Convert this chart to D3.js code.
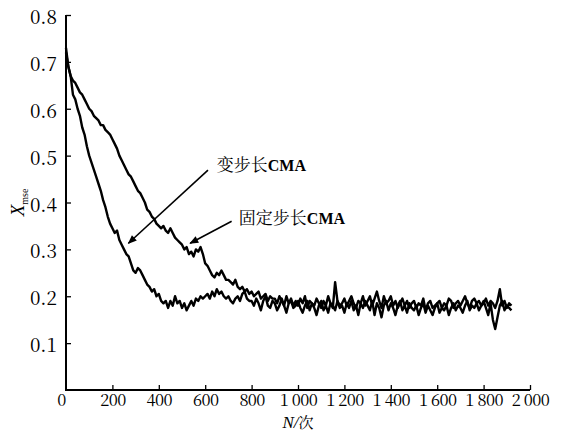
<!DOCTYPE html>
<html>
<head>
<meta charset="utf-8">
<script src="https://cdn.jsdelivr.net/npm/d3@7"></script>
<style>
  body { margin: 0; background: #fff; }
  svg { display: block; }
  .serif { font-family: "Liberation Serif", serif; }
  .tick text { font-family: "Noto Serif CJK SC", serif; fill: #000; }
  .cjk { font-family: "Noto Serif CJK SC", "Noto Sans CJK SC", serif; }
</style>
</head>
<body>
<svg id="chart"></svg>
<script>
var chartWidth = 564;
var chartHeight = 434;

/********
 * Data *
 ********/

// sample step of the iterations (N) for both series
var stepN = 10;

// 变步长CMA (every 10 iterations)
var variableStep = [
  0.73, 0.69, 0.67, 0.63, 0.62, 0.60, 0.585, 0.56, 0.545, 0.52,
  0.50, 0.485, 0.47, 0.455, 0.44, 0.425, 0.405, 0.39, 0.37, 0.355,
  0.345, 0.335, 0.34, 0.32, 0.31, 0.30, 0.29, 0.285, 0.27, 0.255,
  0.25, 0.26, 0.255, 0.245, 0.235, 0.225, 0.22, 0.21, 0.215, 0.20,
  0.205, 0.19, 0.185, 0.19, 0.175, 0.19, 0.18, 0.20, 0.185, 0.19,
  0.175, 0.185, 0.17, 0.18, 0.19, 0.18, 0.195, 0.19, 0.20, 0.195,
  0.20, 0.205, 0.195, 0.21, 0.20, 0.215, 0.205, 0.21, 0.20, 0.195,
  0.20, 0.19, 0.185, 0.195, 0.20, 0.19, 0.205, 0.21, 0.195, 0.19,
  0.19, 0.18, 0.195, 0.185, 0.17, 0.19, 0.20, 0.18, 0.175, 0.19,
  0.185, 0.17, 0.18, 0.195, 0.18, 0.165, 0.185, 0.19, 0.175, 0.18,
  0.19, 0.175, 0.165, 0.18, 0.19, 0.17, 0.185, 0.175, 0.16, 0.18,
  0.19, 0.17, 0.18, 0.165, 0.185, 0.18, 0.17, 0.19, 0.175, 0.18,
  0.165, 0.185, 0.175, 0.19, 0.17, 0.18, 0.16, 0.185, 0.175, 0.19,
  0.18, 0.17, 0.19, 0.16, 0.185, 0.175, 0.155, 0.18, 0.19, 0.17,
  0.185, 0.175, 0.16, 0.18, 0.19, 0.17, 0.18, 0.165, 0.185, 0.175,
  0.17, 0.18, 0.16, 0.175, 0.185, 0.165, 0.18, 0.17, 0.16, 0.175,
  0.185, 0.165, 0.175, 0.17, 0.18, 0.16, 0.175, 0.185, 0.17, 0.18,
  0.175, 0.165, 0.18, 0.19, 0.17, 0.18, 0.175, 0.185, 0.17, 0.18,
  0.19, 0.175, 0.16, 0.185, 0.15, 0.13, 0.155, 0.18, 0.19, 0.17,
  0.18, 0.175, 0.17
];

// 固定步长CMA
var fixedStep = [
  0.72, 0.69, 0.67, 0.66, 0.655, 0.645, 0.635, 0.63, 0.62, 0.61,
  0.60, 0.595, 0.585, 0.58, 0.575, 0.565, 0.565, 0.555, 0.55, 0.545,
  0.535, 0.525, 0.515, 0.50, 0.49, 0.48, 0.47, 0.46, 0.455, 0.445,
  0.435, 0.425, 0.42, 0.41, 0.40, 0.385, 0.38, 0.37, 0.365, 0.355,
  0.35, 0.345, 0.35, 0.34, 0.335, 0.345, 0.335, 0.325, 0.32, 0.315,
  0.31, 0.30, 0.305, 0.29, 0.295, 0.285, 0.30, 0.295, 0.305, 0.29,
  0.27, 0.265, 0.255, 0.245, 0.24, 0.25, 0.245, 0.255, 0.245, 0.235,
  0.235, 0.23, 0.225, 0.235, 0.22, 0.215, 0.22, 0.21, 0.215, 0.205,
  0.21, 0.20, 0.205, 0.21, 0.195, 0.20, 0.205, 0.19, 0.20, 0.195,
  0.195, 0.185, 0.20, 0.19, 0.18, 0.20, 0.185, 0.195, 0.18, 0.19,
  0.18, 0.195, 0.185, 0.20, 0.175, 0.19, 0.185, 0.18, 0.195, 0.185,
  0.175, 0.19, 0.18, 0.20, 0.185, 0.175, 0.23, 0.19, 0.18, 0.185,
  0.195, 0.18, 0.19, 0.20, 0.185, 0.175, 0.19, 0.185, 0.20, 0.18,
  0.19, 0.20, 0.18, 0.195, 0.21, 0.19, 0.175, 0.20, 0.185, 0.19,
  0.20, 0.18, 0.19, 0.175, 0.185, 0.195, 0.18, 0.19, 0.175, 0.185,
  0.19, 0.175, 0.185, 0.18, 0.195, 0.17, 0.185, 0.19, 0.175, 0.18,
  0.185, 0.19, 0.175, 0.185, 0.18, 0.195, 0.19, 0.175, 0.185, 0.19,
  0.18, 0.19, 0.20, 0.185, 0.175, 0.19, 0.195, 0.185, 0.19, 0.18,
  0.185, 0.195, 0.18, 0.19, 0.185, 0.175, 0.19, 0.215, 0.18, 0.19,
  0.175, 0.185, 0.18
];

var xTicks = [0, 200, 400, 600, 800, 1000, 1200, 1400, 1600, 1800, 2000];
var xTickLabels = ["0", "200", "400", "600", "800", "1 000", "1 200", "1 400", "1 600", "1 800", "2 000"];
var yTicks = [0.1, 0.2, 0.3, 0.4, 0.5, 0.6, 0.7, 0.8];
var yTickLabels = ["0.1", "0.2", "0.3", "0.4", "0.5", "0.6", "0.7", "0.8"];

// annotation labels and arrows (in data units: N, Xmse)
var notes = [
  { label: "变步长", tail: [612, 0.469], tip: [269, 0.313], text: [650, 0.468] },
  { label: "固定步长", tail: [714, 0.360], tip: [535, 0.313], text: [745, 0.355] }
];

/**********
 * Scales *
 **********/

var x = d3.scaleLinear().domain([0, 2000]).range([66, 530]);
var y = d3.scaleLinear().domain([0, 0.8]).range([390, 15]);

/**************
 * Make Chart *
 **************/

var svg = d3.select("#chart")
    .attr("width", chartWidth)
    .attr("height", chartHeight);

var defs = svg.append("defs");
defs.append("marker")
    .attr("id", "arrow")
    .attr("viewBox", "0 0 10 10")
    .attr("refX", 9)
    .attr("refY", 5)
    .attr("markerWidth", 10)
    .attr("markerHeight", 9)
    .attr("markerUnits", "userSpaceOnUse")
    .attr("orient", "auto")
  .append("path")
    .attr("d", "M0,1 L10,5 L0,9 Z")
    .attr("fill", "#000");

// lines
var line = d3.line()
    .x(function(d, i) { return x(i * stepN); })
    .y(function(d) { return y(d); });

[fixedStep, variableStep].forEach(function(series) {
  svg.append("path")
      .datum(series)
      .attr("d", line)
      .attr("fill", "none")
      .attr("stroke", "#000")
      .attr("stroke-width", 2.4)
      .attr("stroke-linejoin", "round");
});

// axes
var xAxis = d3.axisBottom(x)
    .tickValues(xTicks)
    .tickSizeInner(-5)
    .tickSizeOuter(0)
    .tickPadding(4)
    .tickFormat(function(d, i) { return xTickLabels[i]; });

var yAxis = d3.axisLeft(y)
    .tickValues(yTicks)
    .tickSizeInner(-5)
    .tickSizeOuter(0)
    .tickPadding(9)
    .tickFormat(function(d, i) { return yTickLabels[i]; });

var xAxisGroup = svg.append("g")
    .attr("transform", "translate(0," + y(0) + ")")
    .call(xAxis);

var yAxisGroup = svg.append("g")
    .attr("transform", "translate(" + x(0) + ",0)")
    .call(yAxis);

xAxisGroup.attr("font-family", null);
yAxisGroup.attr("font-family", null);

xAxisGroup.select(".domain").attr("stroke-width", 2).attr("d", "M" + (x(0) - 1) + ",0H" + x(2000));
yAxisGroup.select(".domain").attr("stroke-width", 2).attr("d", "M0," + (y(0) + 1) + "V" + y(0.8));
yAxisGroup.selectAll(".tick line").attr("stroke-width", 1.3);
xAxisGroup.selectAll(".tick line").attr("stroke-width", 1.3);
xAxisGroup.selectAll(".tick").filter(function(d) { return d === 0; }).select("line").remove();

xAxisGroup.selectAll("text")
    .attr("font-size", "16.5px")
    .attr("letter-spacing", "-0.6px");
xAxisGroup.selectAll(".tick").filter(function(d) { return d === 0; }).select("text").attr("dx", -5);

yAxisGroup.selectAll("text")
    .attr("font-size", "19px")
    .attr("dy", "0.45em");

// axis titles
var xTitle = svg.append("text")
    .attr("x", x(1000))
    .attr("y", 428)
    .attr("text-anchor", "middle")
    .attr("font-size", "17px");
xTitle.append("tspan")
    .attr("class", "serif")
    .attr("font-style", "italic")
    .text("N/");
xTitle.append("tspan")
    .attr("class", "cjk")
    .attr("font-size", "15px")
    .text("次");

var yTitle = svg.append("text")
    .attr("class", "serif")
    .attr("transform", "translate(24," + y(0.4) + ") rotate(-90)")
    .attr("text-anchor", "middle");
yTitle.append("tspan")
    .attr("font-size", "19px")
    .attr("font-style", "italic")
    .text("X");
yTitle.append("tspan")
    .attr("font-size", "10px")
    .attr("dy", 4)
    .text("mse");

// annotations
notes.forEach(function(n) {
  svg.append("line")
      .attr("x1", x(n.tail[0]))
      .attr("y1", y(n.tail[1]))
      .attr("x2", x(n.tip[0]))
      .attr("y2", y(n.tip[1]))
      .attr("stroke", "#000")
      .attr("stroke-width", 1.6)
      .attr("marker-end", "url(#arrow)");

  var t = svg.append("text")
      .attr("x", x(n.text[0]))
      .attr("y", y(n.text[1]))
      .attr("font-size", "17px");
  t.append("tspan")
      .attr("class", "cjk")
      .text(n.label);
  t.append("tspan")
      .attr("class", "serif")
      .attr("font-weight", "bold")
      .attr("font-size", "16px")
      .text("CMA");
});
</script>
</body>
</html>
